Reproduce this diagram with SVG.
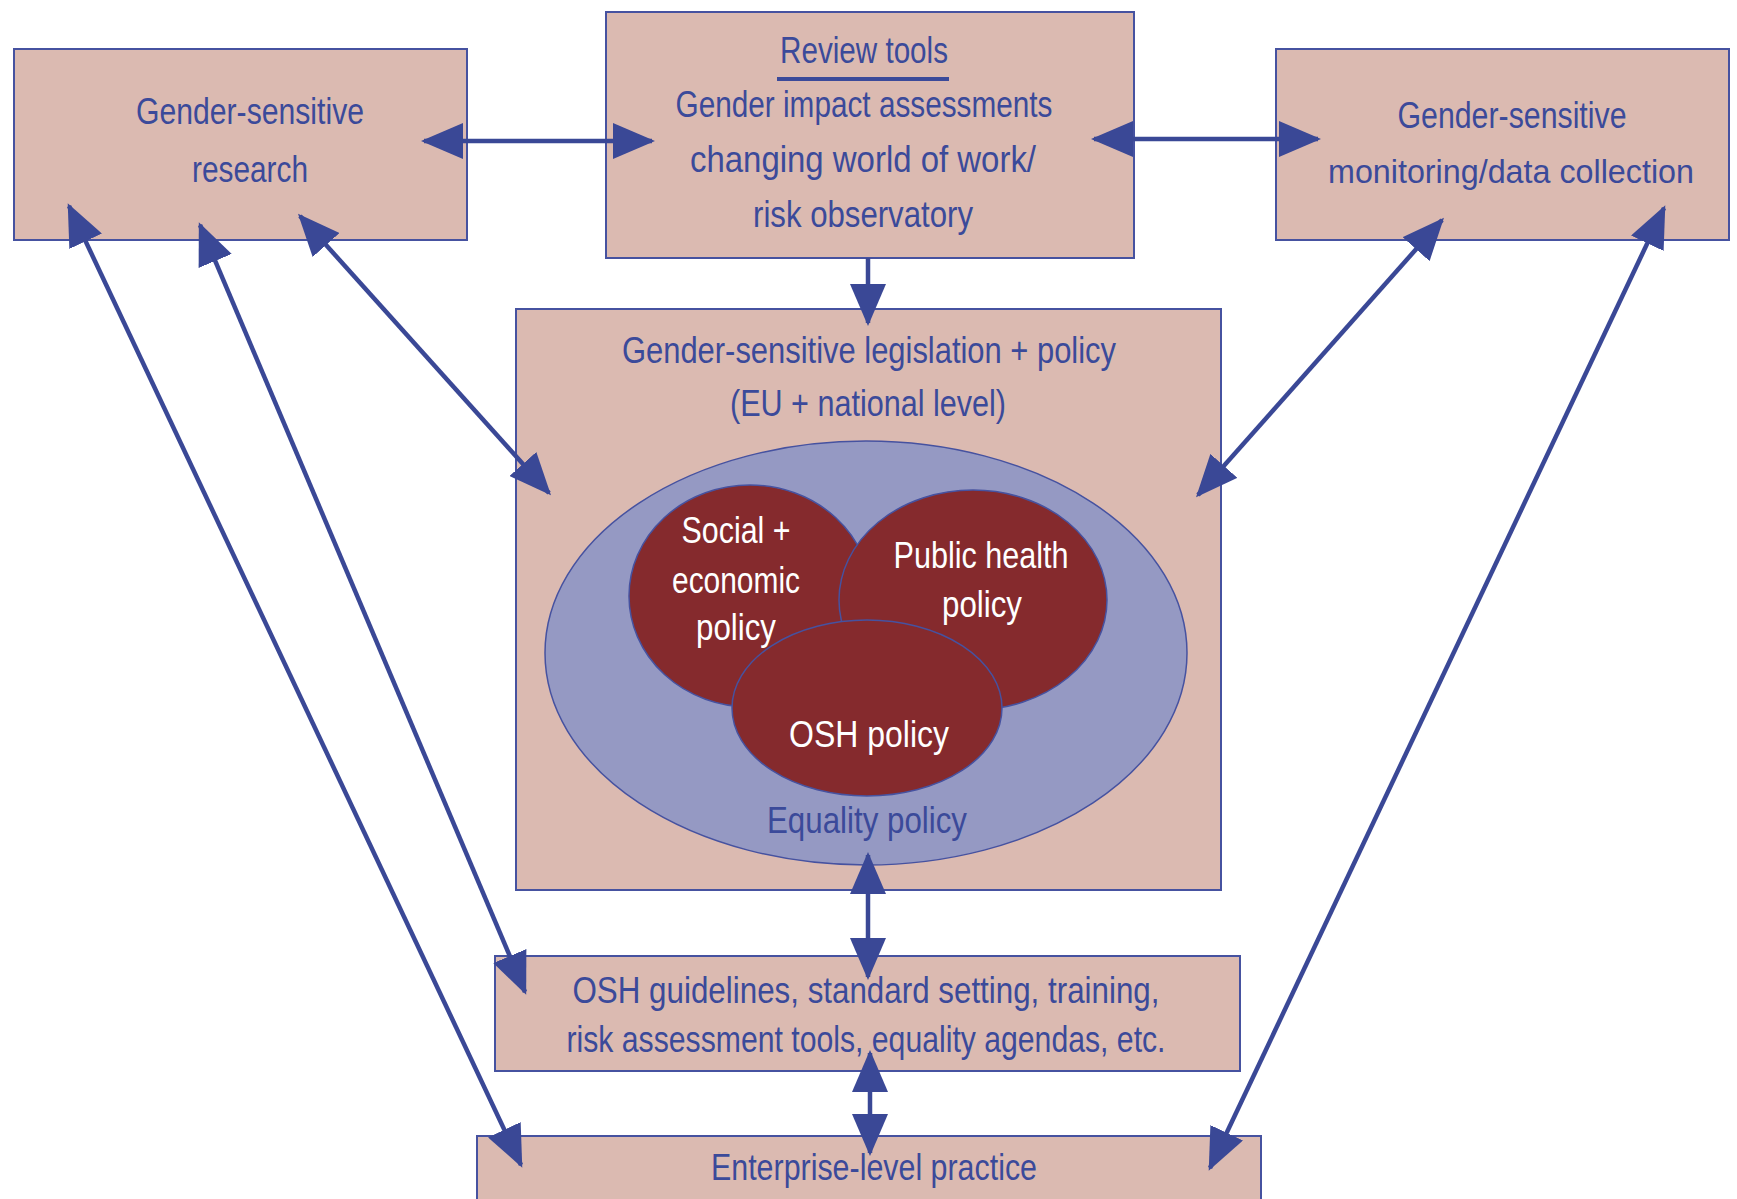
<svg xmlns="http://www.w3.org/2000/svg" width="1737" height="1199" viewBox="0 0 1737 1199">
<style>
.box{fill:#dbbab1;stroke:#4652a0;stroke-width:2}
.t{font-family:"Liberation Sans",Arial,sans-serif;font-size:37px;fill:#3b4a9a;text-anchor:middle}
.w{font-family:"Liberation Sans",Arial,sans-serif;font-size:37px;fill:#ffffff;text-anchor:middle}
.red{fill:#852a2d;stroke:#4652a0;stroke-width:1.5}
.c{stroke:#3a4896;stroke-width:4.5;fill:none;marker-start:url(#ah);marker-end:url(#ah)}
</style>
<defs>
<marker id="ah" markerUnits="userSpaceOnUse" markerWidth="42" markerHeight="36" refX="39" refY="18" orient="auto-start-reverse" viewBox="0 0 42 36">
<path d="M0,0 L42,18 L0,36 z" fill="#3a4896"/>
</marker>
</defs>
<rect width="1737" height="1199" fill="#ffffff"/>
<g id="research">
<rect class="box" x="14" y="49" width="453" height="191"/>
<text class="t" x="250" y="124" textLength="228" lengthAdjust="spacingAndGlyphs">Gender-sensitive</text>
<text class="t" x="250" y="182" textLength="116" lengthAdjust="spacingAndGlyphs">research</text>
</g>
<g id="review">
<rect class="box" x="606" y="12" width="528" height="246"/>
<text class="t" x="864" y="63" textLength="168" lengthAdjust="spacingAndGlyphs">Review tools</text>
<rect x="777" y="77" width="172" height="4" fill="#3b4a9a"/>
<text class="t" x="864" y="117" textLength="377" lengthAdjust="spacingAndGlyphs">Gender impact assessments</text>
<text class="t" x="863" y="172" textLength="346" lengthAdjust="spacingAndGlyphs">changing world of work/</text>
<text class="t" x="863" y="227" textLength="220" lengthAdjust="spacingAndGlyphs">risk observatory</text>
</g>
<g id="monitoring">
<rect class="box" x="1276" y="49" width="453" height="191"/>
<text class="t" x="1512" y="128" textLength="229" lengthAdjust="spacingAndGlyphs">Gender-sensitive</text>
<text class="t" style="font-size:34px" x="1511" y="183" textLength="366" lengthAdjust="spacingAndGlyphs">monitoring/data collection</text>
</g>
<g id="legislation">
<rect class="box" x="516" y="309" width="705" height="581"/>
<text class="t" x="869" y="363" textLength="494" lengthAdjust="spacingAndGlyphs">Gender-sensitive legislation + policy</text>
<text class="t" x="868" y="416" textLength="276" lengthAdjust="spacingAndGlyphs">(EU + national level)</text>
</g>
<g id="equality">
<ellipse cx="866" cy="653" rx="321" ry="212" fill="#9599c3" stroke="#4652a0" stroke-width="1.5"/>
<text class="t" x="867" y="833" textLength="200" lengthAdjust="spacingAndGlyphs">Equality policy</text>
</g>
<g id="social">
<ellipse class="red" cx="750" cy="596" rx="121" ry="111"/>
</g>
<g id="publichealth">
<ellipse class="red" cx="973" cy="600" rx="134" ry="110"/>
</g>
<g id="osh">
<ellipse class="red" cx="867" cy="708" rx="135" ry="88"/>
<text class="w" x="869" y="747" textLength="160" lengthAdjust="spacingAndGlyphs">OSH policy</text>
</g>
<g id="social-label">
<text class="w" x="736" y="543" textLength="109" lengthAdjust="spacingAndGlyphs">Social +</text>
<text class="w" x="736" y="593" textLength="128" lengthAdjust="spacingAndGlyphs">economic</text>
<text class="w" x="736" y="640" textLength="80" lengthAdjust="spacingAndGlyphs">policy</text>
</g>
<g id="publichealth-label">
<text class="w" x="981" y="568" textLength="175" lengthAdjust="spacingAndGlyphs">Public health</text>
<text class="w" x="982" y="617" textLength="80" lengthAdjust="spacingAndGlyphs">policy</text>
</g>
<g id="guidelines">
<rect class="box" x="495" y="956" width="745" height="115"/>
<text class="t" x="866" y="1003" textLength="587" lengthAdjust="spacingAndGlyphs">OSH guidelines, standard setting, training,</text>
<text class="t" x="866" y="1052" textLength="599" lengthAdjust="spacingAndGlyphs">risk assessment tools, equality agendas, etc.</text>
</g>
<g id="enterprise">
<rect class="box" x="477" y="1136" width="784" height="80"/>
<text class="t" x="874" y="1180" textLength="326" lengthAdjust="spacingAndGlyphs">Enterprise-level practice</text>
</g>
<g id="connectors">
<line class="c" x1="424" y1="141" x2="652" y2="141"/>
<line class="c" x1="1094" y1="139" x2="1318" y2="139"/>
<line class="c" style="marker-start:none" x1="868" y1="258" x2="868" y2="323"/>
<line class="c" x1="69" y1="206" x2="521" y2="1165"/>
<line class="c" x1="200" y1="225" x2="525" y2="992"/>
<line class="c" x1="300" y1="216" x2="549" y2="493"/>
<line class="c" x1="1442" y1="220" x2="1198" y2="495"/>
<line class="c" x1="1664" y1="208" x2="1210" y2="1168"/>
<line class="c" x1="868" y1="855" x2="868" y2="977"/>
<line class="c" x1="870" y1="1053" x2="870" y2="1153"/>
</g>
</svg>
